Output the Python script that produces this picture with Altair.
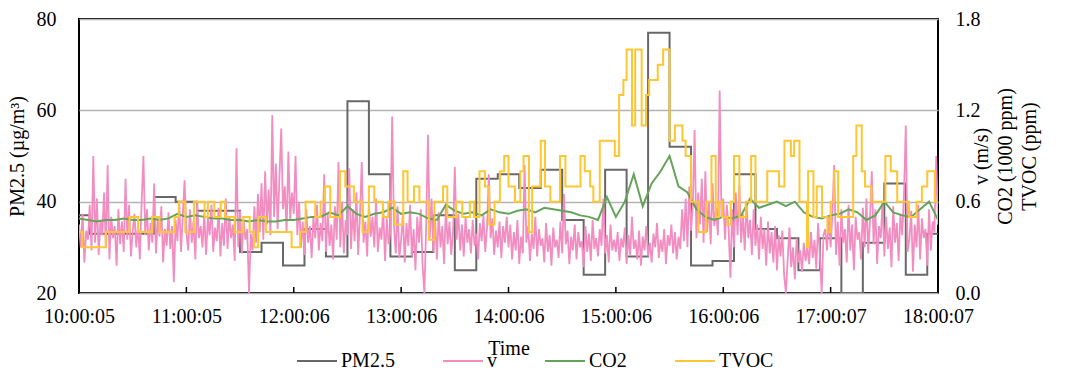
import altair as alt
import pandas as pd

FONT = "Liberation Serif"

# x axis: hours since 10:00:05, labelled with the logger's time stamps
hour_labels = ["10:00:05", "11:00:05", "12:00:06", "13:00:06", "14:00:06",
               "15:00:06", "16:00:06", "17:00:07", "18:00:07"]
tick_hours = [0, 1, 2, 3, 4, 5, 6, 7, 8]

series_names = ["PM2.5", "v", "CO2", "TVOC"]
series_colors = ["#686868", "#f28dc1", "#66a35a", "#ffc633"]

# PM2.5 (µg/m³), step series: value holds from each change time
pm_hours = [0, 0.1, 0.7, 0.9, 1.1, 1.5, 1.7, 1.9, 2.1, 2.3,
            2.5, 2.7, 2.9, 3.1, 3.3, 3.5, 3.7, 3.9, 4.1, 4.3,
            4.5, 4.7, 4.9, 5.1, 5.3, 5.5, 5.7, 5.9, 6.1, 6.3,
            6.5, 6.7, 6.9, 7.1, 7.3, 7.5, 7.7, 7.9, 8.0]
pm_values = [37, 33, 41, 40, 38, 29, 31, 26, 34, 28,
             62, 46, 28, 29, 37, 25, 45, 46, 43, 47,
             36, 24, 47, 28, 77, 52, 26, 27, 46, 34,
             32, 25, 32, 20, 31, 44, 24, 33, 33]

# TVOC (ppm), step series
tvoc_hours = [0, 0.03, 0.25, 0.47, 0.55, 0.68, 0.75, 0.89, 0.93, 0.99,
              1.07, 1.17, 1.20, 1.26, 1.32, 1.36, 1.45, 1.53, 1.59, 1.63,
              1.67, 1.74, 1.98, 2.06, 2.11, 2.20, 2.25, 2.29, 2.34, 2.43,
              2.48, 2.56, 2.64, 2.70, 2.75, 2.83, 2.88, 2.94, 3.02, 3.06,
              3.12, 3.17, 3.26, 3.31, 3.39, 3.43, 3.51, 3.57, 3.64, 3.68,
              3.73, 3.78, 3.82, 3.87, 3.92, 3.96, 4.00, 4.06, 4.11, 4.14,
              4.19, 4.22, 4.30, 4.34, 4.39, 4.48, 4.53, 4.67, 4.71, 4.76,
              4.79, 4.85, 4.99, 5.03, 5.07, 5.10, 5.15, 5.18, 5.24, 5.28,
              5.31, 5.39, 5.44, 5.50, 5.55, 5.62, 5.65, 5.70, 5.77, 5.84,
              5.89, 5.93, 5.96, 5.99, 6.04, 6.07, 6.10, 6.15, 6.21, 6.26,
              6.30, 6.41, 6.52, 6.57, 6.63, 6.66, 6.71, 6.78, 6.79, 6.84,
              6.87, 6.92, 6.97, 7.00, 7.03, 7.07, 7.21, 7.24, 7.29, 7.32,
              7.38, 7.51, 7.56, 7.62, 7.73, 7.80, 7.85, 7.90, 7.97, 8.00]
tvoc_values = [0.4, 0.3, 0.4, 0.5, 0.4, 0.5, 0.4, 0.5, 0.6, 0.4,
               0.6, 0.5, 0.6, 0.5, 0.6, 0.5, 0.4, 0.5, 0.4, 0.3,
               0.5, 0.4, 0.3, 0.4, 0.6, 0.5, 0.6, 0.7, 0.5, 0.8,
               0.7, 0.6, 0.4, 0.7, 0.6, 0.5, 0.6, 0.45, 0.8, 0.6,
               0.7, 0.6, 0.35, 0.6, 0.7, 0.5, 0.6, 0.5, 0.6, 0.5,
               0.8, 0.7, 0.45, 0.6, 0.8, 0.9, 0.7, 0.6, 0.8, 0.9,
               0.4, 0.7, 1.0, 0.7, 0.6, 0.9, 0.7, 0.9, 0.8, 0.7,
               0.6, 1.0, 0.9, 1.3, 1.4, 1.6, 1.1, 1.6, 1.1, 1.3,
               1.4, 1.5, 1.6, 1.0, 1.1, 1.0, 0.9, 0.6, 0.4, 0.6,
               0.9, 0.5, 0.6, 0.5, 0.45, 0.6, 0.9, 0.5, 0.6, 0.9,
               0.6, 0.8, 0.7, 1.0, 0.9, 1.0, 0.6, 0.3, 0.8, 0.5,
               0.7, 0.5, 0.4, 0.6, 0.8, 0.5, 0.9, 1.1, 0.8, 0.7,
               0.6, 0.9, 0.8, 0.6, 0.5, 0.6, 0.7, 0.8, 0.6, 0.45]

# CO2 (1000 ppm), one reading every 5 minutes
co2_step_min = 5
co2_values = [
    0.49, 0.48, 0.47, 0.48, 0.48, 0.49, 0.48, 0.48, 0.49, 0.48, 0.49, 0.52,
    0.50, 0.51, 0.50, 0.49, 0.49, 0.48, 0.48, 0.47, 0.48, 0.47, 0.47, 0.48,
    0.48, 0.49, 0.50, 0.50, 0.53, 0.51, 0.57, 0.52, 0.50, 0.52, 0.53, 0.56,
    0.52, 0.53, 0.52, 0.49, 0.48, 0.58, 0.54, 0.52, 0.53, 0.51, 0.55, 0.53,
    0.52, 0.54, 0.55, 0.53, 0.56, 0.55, 0.54, 0.53, 0.51, 0.50, 0.48, 0.63,
    0.50, 0.60, 0.78, 0.57, 0.72, 0.80, 0.90, 0.70, 0.66, 0.55, 0.50, 0.48,
    0.50, 0.49, 0.51, 0.62, 0.56, 0.58, 0.60, 0.57, 0.60, 0.53, 0.50, 0.49,
    0.51, 0.52, 0.55, 0.53, 0.48, 0.51, 0.60, 0.53, 0.51, 0.50, 0.55, 0.60, 0.48,
]

# air speed v (m/s), one reading per minute
v_step_min = 1
v_values = [
    # 10:00 - 11:00
    0.45, 0.30, 0.52, 0.20, 0.41, 0.35, 0.58, 0.28, 0.90, 0.33,
    0.62, 0.25, 0.48, 0.38, 0.66, 0.30, 0.84, 0.22, 0.50, 0.36,
    0.44, 0.18, 0.55, 0.32, 0.47, 0.27, 0.75, 0.35, 0.58, 0.24,
    0.40, 0.52, 0.30, 0.45, 0.22, 0.60, 0.90, 0.38, 0.55, 0.28,
    0.46, 0.33, 0.72, 0.26, 0.49, 0.37, 0.57, 0.20, 0.42, 0.31,
    0.53, 0.29, 0.44, 0.07, 0.48, 0.34, 0.60, 0.27, 0.51, 0.74,
    # 11:00 - 12:00
    0.40, 0.28, 0.55, 0.33, 0.47, 0.22, 0.60, 0.36, 0.44, 0.30,
    0.52, 0.25, 0.49, 0.38, 0.58, 0.27, 0.43, 0.34, 0.56, 0.24,
    0.46, 0.31, 0.62, 0.29, 0.50, 0.36, 0.45, 0.21, 0.95, 0.30,
    0.54, 0.26, 0.48, 0.35, 0.42, 0.00, 0.39, 0.28, 0.57, 0.33,
    0.65, 0.40, 0.72, 0.35, 0.80, 0.45, 0.68, 0.38, 1.17, 0.50,
    0.85, 0.42, 0.76, 1.08, 0.55, 0.70, 0.40, 0.93, 0.48, 0.66,
    # 12:00 - 13:00
    0.52, 0.90, 0.38, 0.60, 0.30, 0.47, 0.25, 0.55, 0.33, 0.44,
    0.23, 0.50, 0.36, 0.58, 0.28, 0.46, 0.34, 0.78, 0.27, 0.52,
    0.31, 0.45, 0.22, 0.57, 0.35, 0.86, 0.30, 0.60, 0.26, 0.48,
    0.38, 0.82, 0.29, 0.55, 0.34, 0.66, 0.25, 0.51, 0.86, 0.33,
    0.47, 0.24, 0.58, 0.37, 0.50, 0.30, 0.62, 0.27, 0.43, 0.35,
    0.56, 0.21, 0.49, 0.32, 0.40, 1.16, 0.44, 0.26, 0.57, 0.23,
    # 13:00 - 14:00
    0.35, 0.52, 0.20, 0.46, 0.31, 0.58, 0.24, 0.42, 0.15, 0.50,
    0.33, 0.55, 0.18, 0.00, 0.45, 1.04, 0.36, 0.62, 0.27, 0.48,
    0.22, 0.53, 0.30, 0.44, 0.19, 0.57, 0.32, 0.47, 0.25, 0.40,
    0.83, 0.35, 0.52, 0.28, 0.45, 0.24, 0.50, 0.33, 0.42, 0.26,
    0.48, 0.31, 0.39, 0.22, 0.46, 0.34, 0.51, 0.27, 0.43, 0.78,
    0.36, 0.49, 0.25, 0.41, 0.30, 0.47, 0.23, 0.44, 0.33, 0.50,
    # 14:00 - 15:00
    0.30, 0.45, 0.22, 0.40, 0.28, 0.48, 0.19, 0.37, 0.26, 0.84,
    0.33, 0.44, 0.21, 0.39, 0.29, 0.50, 0.24, 0.42, 0.31, 0.36,
    0.20, 0.46, 0.27, 0.38, 0.18, 0.43, 0.30, 0.35, 0.23, 0.47,
    0.26, 0.65, 0.32, 0.41, 0.19, 0.37, 0.28, 0.45, 0.22, 0.40,
    0.30, 0.34, 0.17, 0.44, 0.27, 0.39, 0.21, 0.48, 0.29, 0.36,
    0.24, 0.42, 0.31, 0.62, 0.26, 0.38, 0.20, 0.45, 0.28, 0.35,
    # 15:00 - 16:00
    0.27, 0.40, 0.21, 0.36, 0.30, 0.43, 0.19, 0.38, 0.25, 0.50,
    0.29, 0.35, 0.22, 0.41, 0.18, 0.37, 0.28, 0.44, 0.24, 0.33,
    0.20, 0.39, 0.30, 0.46, 0.23, 0.35, 0.27, 0.42, 0.19, 0.38,
    0.31, 0.45, 0.26, 0.40, 0.22, 0.37, 0.29, 0.55, 0.34, 0.62,
    0.30, 0.70, 0.41, 0.58, 1.07, 0.36, 0.66, 0.45, 0.75, 0.33,
    0.80, 0.40, 0.60, 0.32, 0.72, 0.44, 0.56, 0.38, 1.33, 0.50,
    # 16:00 - 17:00
    0.62, 0.35, 0.58, 0.42, 0.10, 0.55, 0.30, 0.66, 0.38, 0.71,
    0.33, 0.52, 0.28, 0.60, 0.36, 0.48, 0.25, 0.55, 0.31, 0.45,
    0.22, 0.50, 0.29, 0.42, 0.18, 0.47, 0.26, 0.40, 0.20, 0.44,
    0.15, 0.38, 0.24, 0.41, 0.12, 0.00, 0.22, 0.43, 0.17, 0.30,
    0.09, 0.36, 0.20, 0.28, 0.14, 0.33, 0.21, 0.31, 0.19, 0.40,
    0.23, 0.35, 0.16, 0.46, 0.25, 0.00, 0.38, 0.42, 0.28, 0.50,
    # 17:00 - 18:00
    0.30, 0.52, 0.84, 0.25, 0.47, 0.18, 0.55, 0.33, 0.42, 0.20,
    0.58, 0.28, 0.45, 0.15, 0.50, 0.35, 0.40, 0.22, 0.56, 0.30,
    0.62, 0.26, 0.48, 0.80, 0.32, 0.55, 0.19, 0.44, 0.36, 0.60,
    0.24, 0.50, 0.29, 0.43, 0.17, 0.57, 0.33, 0.46, 0.21, 0.52,
    0.38, 0.65, 1.10, 0.27, 0.35, 0.54, 0.14, 0.45, 0.30, 0.58,
    0.22, 0.49, 0.36, 0.42, 0.18, 0.55, 0.28, 0.47, 0.40, 0.90,
    0.45,
]

pm_df = pd.DataFrame({"hour": pm_hours, "value": pm_values, "series": "PM2.5"})
tvoc_df = pd.DataFrame({"hour": tvoc_hours, "value": tvoc_values, "series": "TVOC"})
co2_df = pd.DataFrame({
    "hour": [i * co2_step_min / 60 for i in range(len(co2_values))],
    "value": co2_values, "series": "CO2"})
v_df = pd.DataFrame({
    "hour": [i * v_step_min / 60 for i in range(len(v_values))],
    "value": v_values, "series": "v"})
tick_df = pd.DataFrame({"hour": tick_hours[1:-1]})

label_expr = "[" + ",".join(f"'{s}'" for s in hour_labels) + "][datum.value]"

x_enc = alt.X(
    "hour:Q",
    scale=alt.Scale(domain=[0, 8], nice=False, zero=False),
    axis=alt.Axis(values=tick_hours, labelExpr=label_expr, title="Time",
                  grid=False, domain=False, ticks=False, tickSize=0,
                  labelFlush=False, labelOverlap=False, labelPadding=13,
                  titlePadding=12),
)

color_enc = alt.Color(
    "series:N",
    scale=alt.Scale(domain=series_names, range=series_colors),
    legend=alt.Legend(orient="none", legendX=217, legendY=321,
                      direction="horizontal", title=None,
                      symbolType="stroke", symbolSize=1600,
                      symbolStrokeWidth=2, labelOffset=3,
                      columnPadding=44, padding=0),
)

y_left = alt.Y(
    "value:Q",
    scale=alt.Scale(domain=[20, 80], nice=False, zero=False),
    axis=alt.Axis(orient="left", values=[20, 40, 60, 80],
                  title="PM2.5 (µg/m³)", grid=True, gridColor="#b3b3b3",
                  gridWidth=1.5, domain=False, ticks=False, tickSize=0,
                  labelPadding=23, labelFlush=False, titlePadding=9),
)

y_right = alt.Y(
    "value:Q",
    scale=alt.Scale(domain=[0, 1.8], nice=False, zero=True),
    axis=alt.Axis(orient="right", values=[0, 0.6, 1.2, 1.8], format=".1f",
                  title=["v (m/s)", "CO2 (1000 ppm)", "TVOC (ppm)"],
                  grid=False, domain=False, ticks=False, tickSize=0,
                  labelPadding=17, labelFlush=False,
                  titleAngle=270, titleX=43, titleY=137,
                  titleAlign="center", titleBaseline="middle",
                  titleLineHeight=24),
)

pm_line = alt.Chart(pm_df).mark_line(
    interpolate="step-after", strokeWidth=2, clip=True
).encode(x=x_enc, y=y_left, color=color_enc)

inner_ticks = alt.Chart(tick_df).mark_rule(color="black", strokeWidth=1.5).encode(
    x=x_enc, y=alt.value(274), y2=alt.value(268)
)

v_line = alt.Chart(v_df).mark_line(strokeWidth=1.8, clip=True).encode(
    x=x_enc, y=y_right, color=color_enc)
co2_line = alt.Chart(co2_df).mark_line(strokeWidth=2, clip=True).encode(
    x=x_enc, y=y_right, color=color_enc)
tvoc_line = alt.Chart(tvoc_df).mark_line(
    interpolate="step-after", strokeWidth=2, clip=True
).encode(x=x_enc, y=y_right, color=color_enc)

left = alt.layer(pm_line, inner_ticks)
right = alt.layer(v_line, co2_line, tvoc_line)

chart = (
    alt.layer(left, right)
    .resolve_scale(y="independent")
    .properties(
        width=859, height=274,
        padding={"left": 79, "top": 19, "right": 135, "bottom": 78},
        autosize=alt.AutoSizeParams(type="none"),
        background="white",
    )
    .configure(font=FONT)
    .configure_view(stroke="black", strokeWidth=2)
    .configure_axis(labelFont=FONT, titleFont=FONT, labelFontSize=20,
                    titleFontSize=20, labelColor="black", titleColor="black",
                    titleFontWeight="normal")
    .configure_legend(labelFont=FONT, labelFontSize=20, labelColor="black")
)

chart.save("out.html", embed_options={"renderer": "svg", "actions": False})
